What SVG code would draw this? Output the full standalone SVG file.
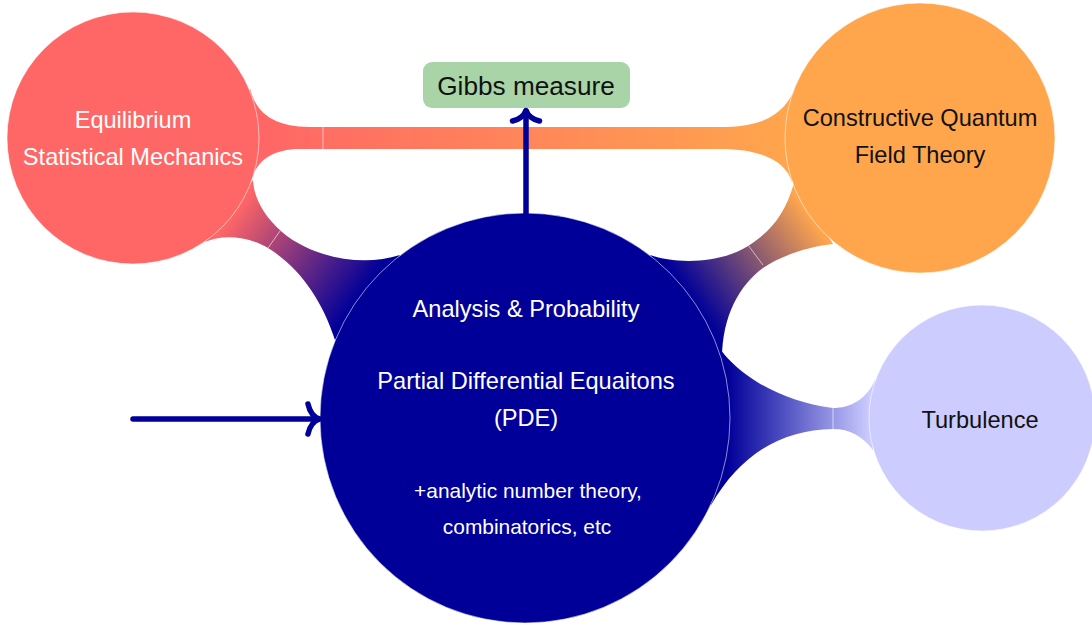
<svg xmlns="http://www.w3.org/2000/svg" width="1092" height="625" viewBox="0 0 1092 625">
<style>
.node-text{font-family:"Liberation Sans",Arial,sans-serif;font-size:23.6px;text-anchor:middle}
.small{font-size:20.9px}
.w{fill:#ffffff}
.k{fill:#111111}
.circ{stroke:#ffffff;stroke-opacity:0.55;stroke-width:1}
.seam{stroke:#ffffff;stroke-opacity:0.6;stroke-width:1;fill:none}
.arrow{stroke:#000099;stroke-width:5.5;fill:none;stroke-linecap:round;stroke-linejoin:round}
</style>
<defs>
<linearGradient id="gRO" gradientUnits="userSpaceOnUse" x1="260" y1="138" x2="790" y2="138">
<stop offset="0" stop-color="#ff6666"/><stop offset="1" stop-color="#ffa64d"/>
</linearGradient>
<linearGradient id="gRN" gradientUnits="userSpaceOnUse" x1="236" y1="211" x2="358" y2="299">
<stop offset="0" stop-color="#ff6666"/><stop offset="1" stop-color="#000099"/>
</linearGradient>
<linearGradient id="gON" gradientUnits="userSpaceOnUse" x1="810" y1="216" x2="692" y2="299">
<stop offset="0" stop-color="#ffa64d"/><stop offset="1" stop-color="#000099"/>
</linearGradient>
<linearGradient id="gNL" gradientUnits="userSpaceOnUse" x1="728" y1="418" x2="870" y2="418">
<stop offset="0" stop-color="#000099"/><stop offset="1" stop-color="#ccccff"/>
</linearGradient>
</defs>
<rect x="0" y="0" width="1092" height="625" fill="#ffffff"/>
<g id="connectors">
<path id="bridge-red-orange" fill="url(#gRO)" d="M 250,88 C 255,110 270,127 310,127 L 720,127 C 762,127 787,116 798,80 L 792,182 C 785,160 760,149 720,149 L 300,149 C 270,149 256,163 252,179 Z"/>
<path id="bridge-red-navy" fill="url(#gRN)" d="M 253,180 C 254,200 266,218 282,232 C 310,256 360,268 400,255 L 335,340 C 322,300 300,268 268,248 C 248,236 222,234 205,242 Z"/>
<path id="bridge-orange-navy" fill="url(#gON)" d="M 650,255 C 675,264 720,264 748,246 C 770,232 785,215 794,183 L 833,244 C 810,246 780,256 763,268 C 740,285 722,315 722,360 Z"/>
<path id="bridge-navy-lavender" fill="url(#gNL)" d="M 712,335 C 725,365 770,400 833,408 C 850,408 866,400 875,380 L 873,450 C 862,436 850,429 833,429 C 780,430 740,455 711,505 Z"/>
<line class="seam" x1="323" y1="127" x2="323" y2="149"/>
<line class="seam" x1="268" y1="248" x2="280" y2="231"/>
<line class="seam" x1="748" y1="245" x2="763" y2="265"/>
<line class="seam" x1="833" y1="408" x2="833" y2="429"/>
</g>
<g id="node-equilibrium">
<circle class="circ" cx="133" cy="138" r="126" fill="#ff6666"/>
<text class="node-text w" x="133" y="128">Equilibrium</text>
<text class="node-text w" x="133" y="165">Statistical Mechanics</text>
</g>
<g id="node-cqft">
<circle class="circ" cx="920" cy="138" r="135" fill="#ffa64d"/>
<text class="node-text k" x="920" y="126">Constructive Quantum</text>
<text class="node-text k" x="920" y="163">Field Theory</text>
</g>
<g id="node-turbulence">
<circle class="circ" cx="982" cy="418" r="113" fill="#ccccff"/>
<text class="node-text k" x="980" y="428">Turbulence</text>
</g>
<g id="node-analysis">
<circle class="circ" cx="525" cy="418" r="205" fill="#000099"/>
<text class="node-text w" x="526" y="317">Analysis &amp; Probability</text>
<text class="node-text w" x="526" y="389">Partial Differential Equaitons</text>
<text class="node-text w" x="526" y="426">(PDE)</text>
<text class="node-text small w" x="528" y="498">+analytic number theory,</text>
<text class="node-text small w" x="527" y="534">combinatorics, etc</text>
</g>
<g id="node-gibbs">
<rect x="423" y="62" width="207" height="46" rx="9" fill="#a8d4a8"/>
<text x="526" y="95" style="font-family:'Liberation Sans',Arial,sans-serif;font-size:26.2px;text-anchor:middle" fill="#111111">Gibbs measure</text>
</g>
<g id="arrows">
<line class="arrow" x1="526" y1="213" x2="526" y2="111"/>
<path class="arrow" d="M 512.5,121 C 519,119.5 524,116 526,110.5 C 528,116 533,119.5 539.5,121"/>
<line class="arrow" x1="133" y1="419" x2="319" y2="419"/>
<path class="arrow" d="M 308,404 C 309.5,411 313.5,417 319.5,419 C 313.5,421 309.5,427 308,434"/>
</g>
</svg>
